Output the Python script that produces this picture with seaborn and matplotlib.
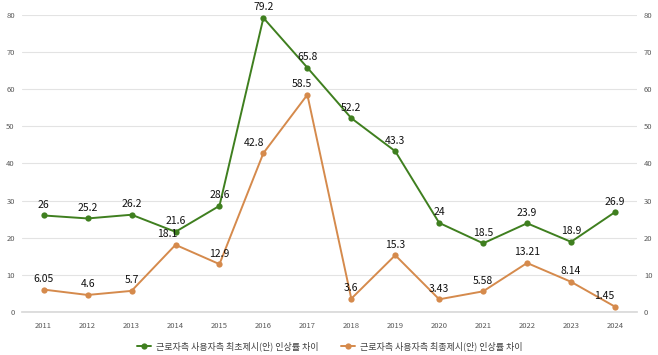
import pandas as pd
import numpy as np
import seaborn as sns
import matplotlib.pyplot as plt

years = list(range(2011, 2025))
first_gap = [26, 25.2, 26.2, 21.6, 28.6, 79.2, 65.8, 52.2, 43.3, 24, 18.5, 23.9, 18.9, 26.9]
final_gap = [6.05, 4.6, 5.7, 18.1, 12.9, 42.8, 58.5, 3.6, 15.3, 3.43, 5.58, 13.21, 8.14, 1.45]
first_labels = ["26", "25.2", "26.2", "21.6", "28.6", "79.2", "65.8", "52.2", "43.3", "24", "18.5", "23.9", "18.9", "26.9"]
final_labels = ["6.05", "4.6", "5.7", "18.1", "12.9", "42.8", "58.5", "3.6", "15.3", "3.43", "5.58", "13.21", "8.14", "1.45"]
series_names = ["근로자측 사용자측 최초제시(안) 인상률 차이", "근로자측 사용자측 최종제시(안) 인상률 차이"]

df = pd.DataFrame({
    "year": years * 2,
    "value": first_gap + final_gap,
    "series": [series_names[0]] * len(years) + [series_names[1]] * len(years),
})

sns.set_theme(style="white")
plt.rcParams['font.family'] = ['Noto Sans CJK KR', 'DejaVu Sans']

fig = plt.figure(figsize=(6.58, 3.55), dpi=100)
ax = fig.add_axes([0.033, 0.121, 0.935, 0.837])

palette = {series_names[0]: "#3f7f1f", series_names[1]: "#d58a4c"}
sns.lineplot(data=df, x="year", y="value", hue="series", palette=palette,
             marker="o", markersize=4.5, markeredgewidth=0, linewidth=1.4, ax=ax)

# a few labels sit slightly left of their point in the original
final_dx = {2014: -6, 2016: -7, 2017: -4, 2024: -8}
for i, yr in enumerate(years):
    ax.annotate(first_labels[i], (yr, first_gap[i]), xytext=(0, 4), textcoords="offset points",
                ha="center", va="bottom", fontsize=7.5, color="#111111")
    ax.annotate(final_labels[i], (yr, final_gap[i]), xytext=(final_dx.get(yr, 0), 4),
                textcoords="offset points", ha="center", va="bottom", fontsize=7.5, color="#111111")

ax.set_xlim(2010.5, 2024.5)
ax.set_ylim(0, 80)
ax.set_yticks(range(0, 81, 10))
ax.set_xticks(years)
ax.grid(axis="y", color="#e3e3e3", linewidth=0.8)
ax.set_axisbelow(True)
for s in ax.spines.values():
    s.set_visible(False)
ax.spines["bottom"].set_visible(True)
ax.spines["bottom"].set_color("#d9d9d9")
ax.tick_params(axis="both", length=0, labelsize=5.5, labelcolor="#595959")
ax.tick_params(axis="y", pad=5)
ax.tick_params(axis="x", pad=7)
ax.set_xlabel("")
ax.set_ylabel("")

ax2 = ax.twinx()
ax2.set_ylim(0, 80)
ax2.set_yticks(range(0, 81, 10))
for s in ax2.spines.values():
    s.set_visible(False)
ax2.tick_params(axis="y", length=0, labelsize=5.5, labelcolor="#595959", pad=5)

handles, labels = ax.get_legend_handles_labels()
ax.legend(handles, labels, loc="center", bbox_to_anchor=(0.5, -0.115), ncol=2,
          frameon=False, fontsize=6.5, handlelength=1.6, columnspacing=2.5,
          labelcolor="#404040", borderpad=0, handletextpad=0.5)

fig.savefig("out.png", dpi=100)
